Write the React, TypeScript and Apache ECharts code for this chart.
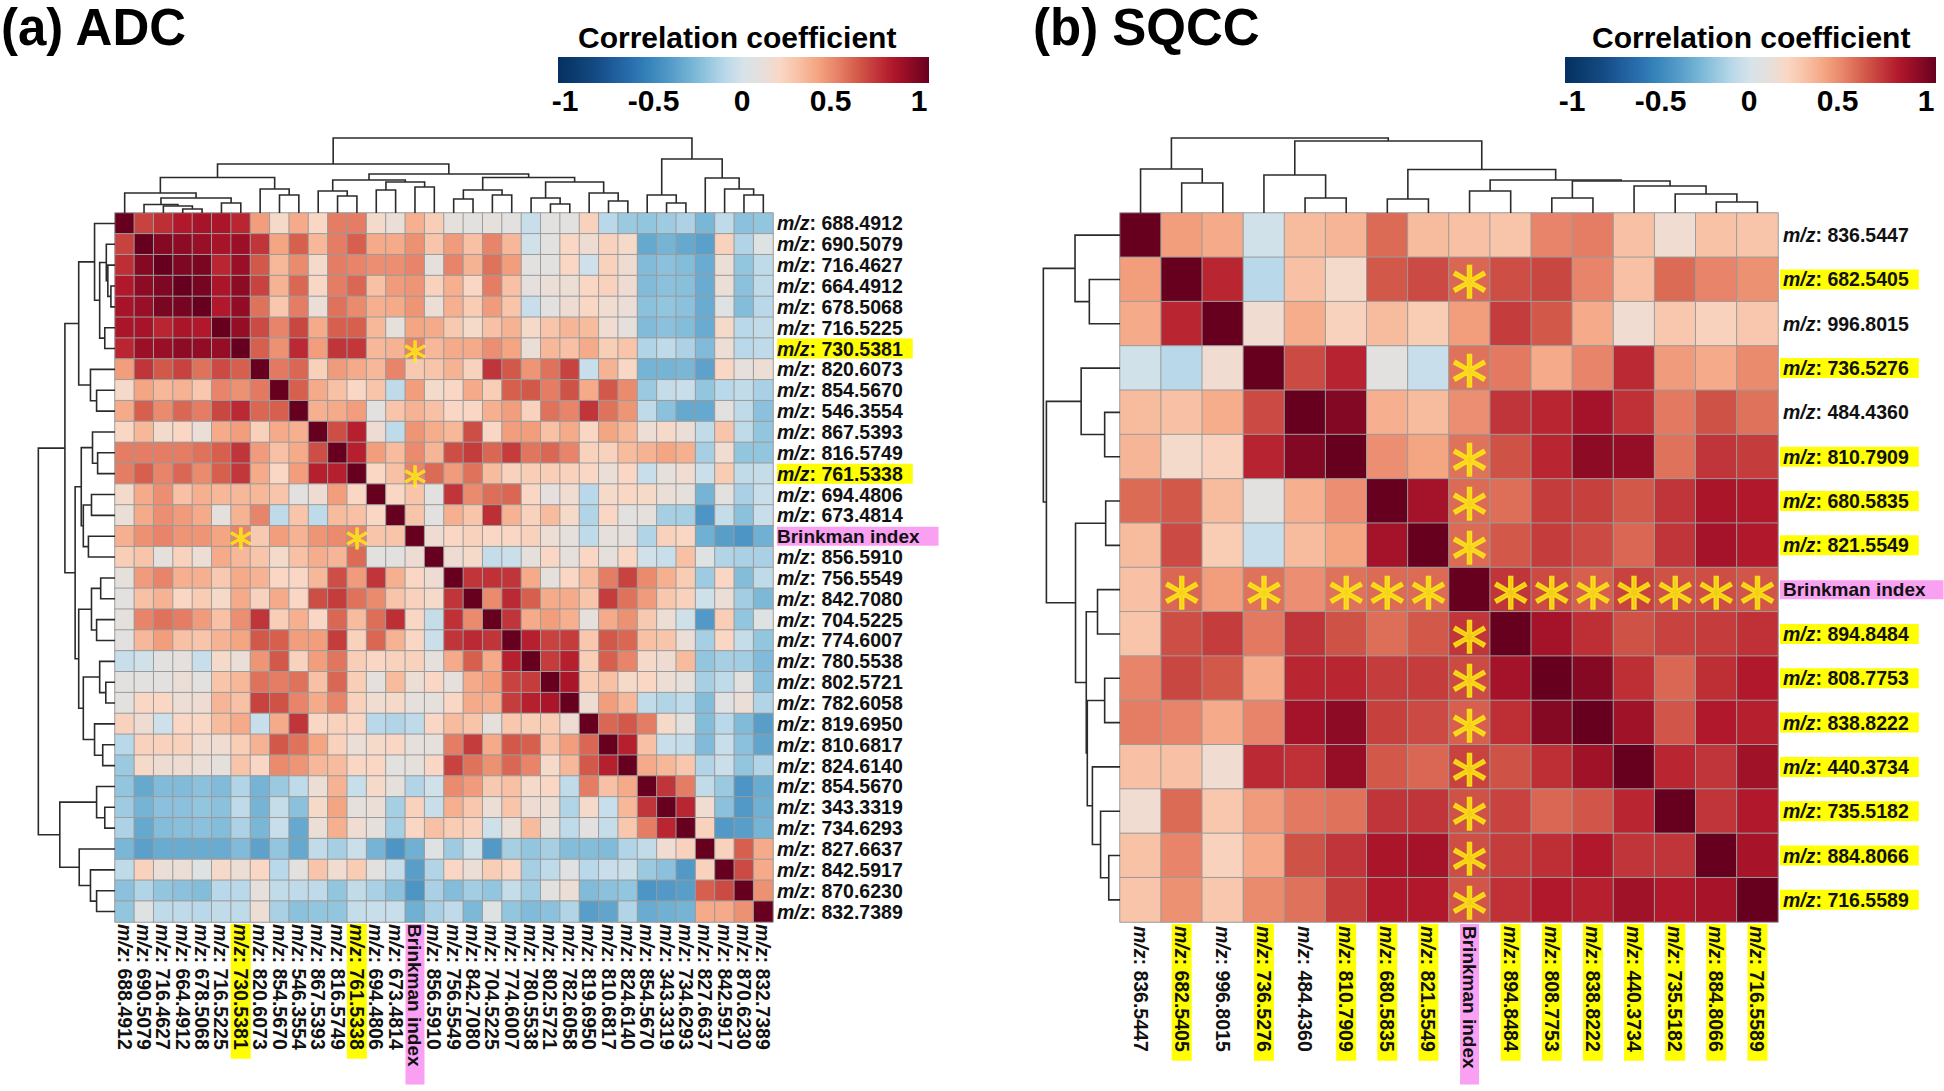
import React, { useEffect, useRef } from "react";
import * as echarts from "echarts";

// ---------- labels ----------
const adcLabels = ["688.4912","690.5079","716.4627","664.4912","678.5068","716.5225","730.5381","820.6073","854.5670","546.3554","867.5393","816.5749","761.5338","694.4806","673.4814","Brinkman index","856.5910","756.5549","842.7080","704.5225","774.6007","780.5538","802.5721","782.6058","819.6950","810.6817","824.6140","854.5670","343.3319","734.6293","827.6637","842.5917","870.6230","832.7389"];
const sqccLabels = ["836.5447","682.5405","996.8015","736.5276","484.4360","810.7909","680.5835","821.5549","Brinkman index","894.8484","808.7753","838.8222","440.3734","735.5182","884.8066","716.5589"];
const adcHighlighted = ["730.5381","761.5338"];
const sqccPlain = ["836.5447","996.8015","484.4360"];
const colorbarTitle = "Correlation coefficient";

// ---------- correlation values: each row starts on the diagonal (upper triangle) ----------
const adcUpper = [
[1,.68,.74,.8,.83,.82,.76,.42,.18,.38,.2,.52,.52,.17,.12,.36,.24,.1,.08,.1,.08,-.05,.08,.08,.22,-.1,-.18,-.2,-.17,-.13,-.27,-.08,-.22,-.2],
[1,.92,.9,.87,.83,.86,.72,.4,.6,.33,.52,.6,.38,.38,.46,.28,.43,.3,.5,.33,-.02,.07,.2,.14,.22,.18,-.33,-.28,-.33,-.37,.22,-.12,.05],
[1,.94,.95,.76,.87,.62,.33,.48,.17,.52,.5,.47,.47,.5,.1,.5,.35,.55,.42,.08,.07,.2,-.03,.22,.14,-.25,-.22,-.24,-.32,.12,-.2,-.08],
[1,.96,.82,.9,.68,.35,.58,.2,.52,.58,.3,.43,.45,.22,.36,.2,.52,.3,.09,.12,.13,.2,.22,.14,-.25,-.22,-.23,-.32,.12,-.22,-.08],
[1,.8,.89,.55,.27,.52,.12,.55,.48,.36,.38,.45,.13,.36,.25,.43,.28,-.05,.08,.14,.2,.15,.12,-.22,-.2,-.22,-.32,.05,-.24,-.1],
[1,.88,.66,.5,.67,.38,.6,.6,.33,.1,.4,.38,.26,.18,.3,.35,.18,.28,.34,.32,.15,.1,-.25,-.22,-.24,-.32,.18,-.1,-.07],
[1,.6,.46,.75,.42,.72,.71,.33,.35,.5,.33,.38,.38,.47,.4,.12,.33,.3,.38,.24,.28,-.12,-.08,-.13,-.25,.13,-.1,-.08],
[1,.53,.58,.23,.43,.38,.33,.5,.26,.28,.35,.22,.72,.62,.45,.55,.68,-.05,.35,.2,-.28,-.28,-.27,-.36,.2,.1,.13],
[1,.6,.38,.3,.2,.28,-.08,.42,.17,.2,.38,.24,.6,.62,.52,.64,.38,.62,.48,-.18,-.06,-.05,-.2,-.1,-.07,-.14],
[1,.36,.38,.42,.08,.28,.35,.3,.2,.2,.36,.42,.22,.55,.5,.72,.55,.45,-.08,-.22,-.33,-.33,.08,-.08,-.22],
[1,.65,.78,.14,-.08,.45,.37,.33,.65,.2,.42,.42,.3,.38,.2,.4,.33,.13,.18,.12,-.07,.28,-.08,-.2],
[1,.78,.42,.32,.48,.34,.65,.7,.58,.7,.54,.58,.5,.22,.22,.32,.35,.4,.36,-.15,.15,-.2,-.2],
[1,.2,.3,.5,.57,.43,.55,.32,.22,.24,.24,.22,.2,.12,.2,-.05,.1,.15,-.04,.25,-.07,-.06],
[1,.2,.28,.08,.72,.48,.56,.58,.2,.09,.15,-.1,.18,.2,.18,.12,.1,-.28,.08,-.14,-.05],
[1,.28,.08,.36,.28,.74,.35,.22,.32,.18,-.12,.2,.08,.1,-.15,-.15,-.42,-.06,-.22,-.05],
[1,.14,.2,.22,.2,.2,.22,.13,.1,-.08,.1,.1,-.12,.22,.2,-.3,-.38,-.42,-.3],
[1,.14,.18,-.06,-.04,.1,.2,.1,.2,.1,.2,-.02,-.05,.3,.05,-.12,-.14,-.14],
[1,.72,.73,.72,.38,.1,.2,.32,.52,.68,.48,.36,.25,-.17,.2,-.24,-.08],
[1,.48,.75,.6,.38,.38,.28,.7,.55,.43,.27,.22,-.03,.12,-.16,-.26],
[1,.72,.38,.42,.36,.1,.38,.46,.26,.13,-.03,-.4,.24,-.2,.05],
[1,.78,.68,.7,.27,.62,.58,.3,.28,.12,-.15,.2,-.06,-.2],
[1,.7,.78,.24,.6,.5,.18,.14,.32,-.2,-.15,-.16,-.25],
[1,.82,.25,.3,.18,.2,.13,.1,-.15,-.08,.08,-.22],
[1,.14,.42,.33,-.07,-.12,-.08,-.24,.06,.12,-.12],
[1,.58,.62,.52,.18,.07,-.24,-.1,-.25,-.38],
[1,.78,.3,-.05,-.06,-.25,-.05,-.22,-.35],
[1,.38,.33,.27,-.12,-.04,-.2,-.12],
[1,.72,.52,-.07,-.18,-.42,-.32],
[1,.76,.15,-.22,-.4,-.3],
[1,.22,-.4,-.38,-.28],
[1,.22,.6,.38],
[1,.66,.38],
[1,.46],
[1],
];
const sqccUpper = [
[1,.42,.38,-.02,.32,.34,.57,.32,.3,.28,.5,.52,.3,.15,.29,.28],
[1,.76,-.1,.3,.17,.62,.66,.58,.65,.67,.5,.3,.57,.5,.46],
[1,.15,.37,.22,.32,.25,.42,.7,.62,.38,.15,.27,.22,.27],
[1,.66,.77,.08,-.05,.55,.53,.38,.5,.75,.43,.38,.48],
[1,.93,.36,.32,.47,.72,.76,.84,.73,.53,.64,.55],
[1,.47,.4,.55,.64,.76,.9,.88,.55,.72,.7],
[1,.84,.57,.56,.7,.69,.62,.72,.82,.8],
[1,.57,.62,.7,.66,.58,.72,.84,.8],
[1,.72,.66,.6,.68,.64,.65,.63],
[1,.84,.74,.64,.68,.7,.73],
[1,.92,.74,.58,.74,.8],
[1,.85,.63,.8,.78],
[1,.76,.72,.85],
[1,.72,.8],
[1,.83],
[1],
];

// ---------- significance marks: [column, row] ----------
const adcStars = [[15,6],[15,12],[6,15],[12,15]];
const sqccStars = [[1,8],[3,8],[5,8],[6,8],[7,8],[9,8],[10,8],[11,8],[12,8],[13,8],[14,8],[15,8],[8,1],[8,3],[8,5],[8,6],[8,7],[8,9],[8,10],[8,11],[8,12],[8,13],[8,14],[8,15]];

// ---------- dendrograms: [merge height, left child, right child]; a number is a leaf index ----------
const adcTree: any = [75,
  [49,
    [35.5, [20, 0, [15, [8.5, 1, [7, 2, [4, 3, 4]]], [10, 5, 6]]], [24, 7, [18, 8, 9]]],
    [39,
      [33, [22, 10, [17, 11, 12]], [31, [23, 13, 14], [26, 15, 16]]],
      [35.5, [23, [14, 17, 18], [18, 19, 20]], [31, [15, 21, [9, 22, 23]], [20, 24, [12, 25, 26]]]],
    ],
  ],
  [54, [18, 27, [10, 28, 29]], [35, 30, [24, 31, [18, 32, 33]]]],
];
const sqccTree: any = [75,
  [44, 0, [30, 1, 2]],
  [72, [38, 3, [15, 4, 5]], [43.5, [14, 6, 7], [33, [22, 8, 9], [32, [15, 10, 11], [27, 12, [19, 13, [11, 14, 15]]]]]]],
];

// ---------- colour scale, one colour per 0.1 from -1 to 1 ----------
const palette = ["#053061","#0c3d70","#144a82","#1f5c9c","#2a70ae","#3886bc","#5299c7","#6fb0d3","#92c5de","#b9d8e9","#d7e3ea","#e6e0dc","#f9d7c4","#f8c0a4","#f4a582","#e88469","#d6604d","#c43c3c","#b2182b","#8e0b25","#67001f"];

const FONT = "'Liberation Sans', Arial, sans-serif";
const TEXT = "#111111";
const YELLOW = "#ffff00";
const PINK = "#f9a0f2";
const STAR = "#ffee10";

function cellsFrom(upper: number[][]) {
  const out: number[][] = [];
  upper.forEach((row, r) =>
    row.forEach((v, k) => {
      out.push([r + k, r, v]);
      if (k > 0) out.push([r, r + k, v]);
    })
  );
  return out;
}

function segmentsFrom(tree: any) {
  const segs: number[][] = [];
  const walk = (n: any): [number, number] => {
    if (typeof n === "number") return [n + 0.5, 0];
    const [pa, ha] = walk(n[1]);
    const [pb, hb] = walk(n[2]);
    segs.push([pa, pb, n[0], ha, hb]);
    return [(pa + pb) / 2, n[0]];
  };
  walk(tree);
  return segs;
}

function richStyles(lineHeight: number, leftPad: number, yellowPad: number, pinkPad: number) {
  const base = { fontFamily: FONT, fontWeight: "bold", fontSize: 19.5, color: TEXT, lineHeight };
  return {
    ni: { ...base, fontStyle: "italic", padding: [0, 0, 0, leftPad] },
    nb: { ...base },
    yi: { ...base, fontStyle: "italic", backgroundColor: YELLOW, padding: [0, 0, 0, leftPad] },
    yb: { ...base, backgroundColor: YELLOW, padding: [0, yellowPad, 0, 0] },
    pb: { ...base, fontSize: 19, backgroundColor: PINK, padding: [0, pinkPad, 0, leftPad] },
  };
}

function labelFormatter(isYellow: (s: string) => boolean) {
  return (v: string) => {
    if (v === "Brinkman index") return `{pb|${v}}`;
    return isYellow(v) ? `{yi|m/z}{yb|: ${v}}` : `{ni|m/z}{nb|: ${v}}`;
  };
}

function dendroSeries(segs: number[][], xi: number, yi: number, horizontal: boolean) {
  return {
    type: "custom",
    coordinateSystem: "cartesian2d",
    xAxisIndex: xi,
    yAxisIndex: yi,
    silent: true,
    clip: false,
    data: segs,
    encode: horizontal ? { x: [0, 1], y: [2] } : { x: [2], y: [0, 1] },
    renderItem: (_: any, api: any) => {
      const a = api.value(0), b = api.value(1), h = api.value(2), ha = api.value(3), hb = api.value(4);
      const pts = horizontal
        ? [[a, ha], [a, h], [b, h], [b, hb]]
        : [[ha, a], [h, a], [h, b], [hb, b]];
      return {
        type: "polyline",
        shape: { points: pts.map((p) => api.coord(p)) },
        style: { stroke: "#2b2b2b", lineWidth: 1.6, fill: "none" },
      };
    },
  };
}

function buildOption() {
  const panels = [
    { title: "(a) ADC", titleX: 1, labels: adcLabels, upper: adcUpper, tree: adcTree, stars: adcStars, starSize: 46, starOff: 10, starLine: 18, starBold: 0.8,
      isYellow: (s: string) => adcHighlighted.includes(s),
      heat: { left: 115, top: 213, width: 658, height: 709 },
      cbTitleX: 578, barX: 558, barW: 371, tickX: 565, tickW: 354,
      rx: richStyles(16, 0, 9, 18), ry: richStyles(19, 0, 10, 19), labelMarginY: 4, labelMarginX: 2 },
    { title: "(b) SQCC", titleX: 1033, labels: sqccLabels, upper: sqccUpper, tree: sqccTree, stars: sqccStars, starSize: 72, starOff: 14, starLine: 38, starBold: 1.4,
      isYellow: (s: string) => !sqccPlain.includes(s) && s !== "Brinkman index",
      heat: { left: 1120, top: 213, width: 658, height: 709 },
      cbTitleX: 1592, barX: 1565, barW: 371, tickX: 1572, tickW: 354,
      rx: richStyles(25, 2, 9, 16), ry: richStyles(25, 3, 10, 18), labelMarginY: 2, labelMarginX: 2 },
  ];

  const grid: any[] = [], xAxis: any[] = [], yAxis: any[] = [], series: any[] = [], title: any[] = [], graphic: any[] = [];
  const stops = palette.map((color, i) => ({ offset: i / (palette.length - 1), color }));
  const free = { outerBoundsMode: "none", containLabel: false };

  panels.forEach((p) => {
    const h = p.heat;
    const n = p.labels.length;
    const base = grid.length;
    const hidden = { show: false };
    // heatmap grid
    grid.push({ ...free, left: h.left, top: h.top, width: h.width, height: h.height });
    xAxis.push({
      gridIndex: base, type: "category", data: p.labels, position: "bottom",
      axisLine: hidden, axisTick: hidden, splitLine: hidden,
      axisLabel: { interval: 0, rotate: -90, margin: p.labelMarginX, hideOverlap: false, formatter: labelFormatter(p.isYellow), rich: p.rx },
    });
    yAxis.push({
      gridIndex: base, type: "category", data: p.labels, inverse: true, position: "right",
      axisLine: hidden, axisTick: hidden, splitLine: hidden,
      axisLabel: { interval: 0, margin: p.labelMarginY, hideOverlap: false, formatter: labelFormatter(p.isYellow), rich: p.ry },
    });
    // top dendrogram
    grid.push({ ...free, left: h.left, top: h.top - 90, width: h.width, height: 90 });
    xAxis.push({ gridIndex: base + 1, type: "value", min: 0, max: n, show: false });
    yAxis.push({ gridIndex: base + 1, type: "value", min: 0, max: 90, show: false });
    // left dendrogram
    grid.push({ ...free, left: h.left - 92, top: h.top, width: 92, height: h.height });
    xAxis.push({ gridIndex: base + 2, type: "value", min: 0, max: 90, inverse: true, show: false });
    yAxis.push({ gridIndex: base + 2, type: "value", min: 0, max: n, inverse: true, show: false });
    // colour bar scale
    grid.push({ ...free, left: p.tickX, top: 57, width: p.tickW, height: 26 });
    xAxis.push({
      gridIndex: base + 3, type: "value", min: -1, max: 1, interval: 0.5, position: "bottom",
      axisLine: hidden, axisTick: hidden, splitLine: hidden,
      axisLabel: { margin: 2, fontFamily: FONT, fontWeight: "bold", fontSize: 30, color: "#000", showMinLabel: true, showMaxLabel: true, hideOverlap: false },
    });
    yAxis.push({ gridIndex: base + 3, type: "value", min: 0, max: 1, show: false });

    series.push({
      type: "heatmap", xAxisIndex: base, yAxisIndex: base, data: cellsFrom(p.upper), silent: true,
      itemStyle: { borderColor: "#9b9b9b", borderWidth: 1 }, progressive: 0,
    });
    series.push({
      type: "scatter", xAxisIndex: base, yAxisIndex: base, data: p.stars, symbolSize: 0, silent: true, z: 5,
      label: {
        show: true, position: "inside", formatter: "*", offset: [0, p.starOff], color: STAR,
        fontFamily: "'DejaVu Sans'", fontWeight: "normal", fontSize: p.starSize, lineHeight: p.starLine,
        textBorderColor: STAR, textBorderWidth: p.starBold,
      },
    });
    const segs = segmentsFrom(p.tree);
    series.push(dendroSeries(segs, base + 1, base + 1, true));
    series.push(dendroSeries(segs, base + 2, base + 2, false));

    title.push({ text: p.title, left: p.titleX, top: 2, padding: 0, textStyle: { fontFamily: FONT, fontWeight: "bold", fontSize: 51, color: "#000" } });
    title.push({ text: colorbarTitle, left: p.cbTitleX, top: 22, padding: 0, textStyle: { fontFamily: FONT, fontWeight: "bold", fontSize: 30, color: "#000" } });
    graphic.push({
      type: "rect", x: p.barX, y: 57, shape: { width: p.barW, height: 26 }, silent: true,
      style: { fill: new echarts.graphic.LinearGradient(0, 0, 1, 0, stops) },
    });
  });

  return {
    animation: false,
    backgroundColor: "#ffffff",
    title, grid, xAxis, yAxis, series, graphic,
    visualMap: [{
      type: "continuous", show: false, min: -1, max: 1, dimension: 2,
      seriesIndex: [0, 4], inRange: { color: palette },
    }],
  };
}

export default function App() {
  const ref = useRef<HTMLDivElement>(null);
  useEffect(() => {
    document.body.style.margin = "0";
    const chart = echarts.init(ref.current!, undefined, { renderer: "svg" });
    chart.setOption(buildOption() as any);
    return () => chart.dispose();
  }, []);
  return <div ref={ref} style={{ width: 1944, height: 1091 }} />;
}
